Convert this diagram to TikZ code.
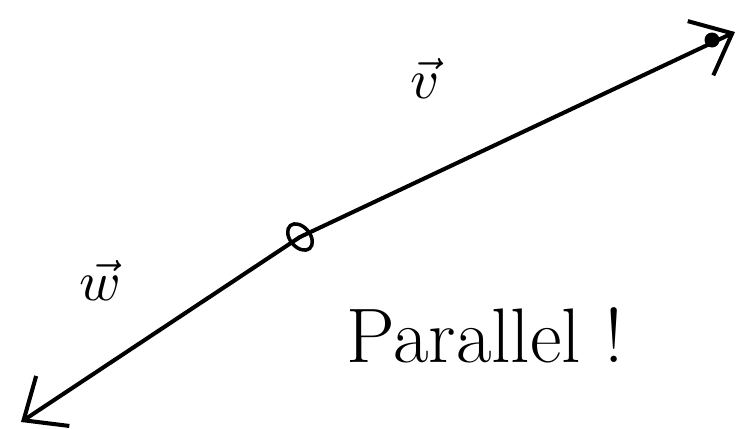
\documentclass[tikz,border=0pt]{standalone}
\usepackage{amsmath}
\usetikzlibrary{calc, positioning}
\usetikzlibrary{arrows.meta}

\begin{document}
\begin{tikzpicture}[line join=round, line cap=round]
\useasboundingbox (0,0) rectangle (15,8.56);

% Shared point and arrow tips
\coordinate (O) at (6.0,3.82);
\coordinate (V) at (14.7,7.92);
\coordinate (W) at (0.42,0.12);

% The two vectors
\draw[line width=2.3pt, -{Straight Barb[length=7mm, width=12mm, line width=2.3pt]}] (O) -- (V);
\draw[line width=2.3pt, -{Straight Barb[length=7mm, width=12mm, line width=2.3pt]}] (O) -- (W);

% Marked common tail
\draw[line width=2pt, rotate around={40:(O)}] (O) ellipse (0.2 and 0.3);
\fill[black] (14.24,7.76) circle (0.15);

% Vector labels
\node[scale=3.2] (vlabel) at (8.5,7.0) {$\vec{v}$};
\node[scale=3.2] (wlabel) at (2.0,2.95) {$\vec{w}$};

% Remark
\node[font=\fontsize{44}{50}\selectfont] (remark) at (9.7,1.85) {Parallel !};
\end{tikzpicture}
\end{document}
